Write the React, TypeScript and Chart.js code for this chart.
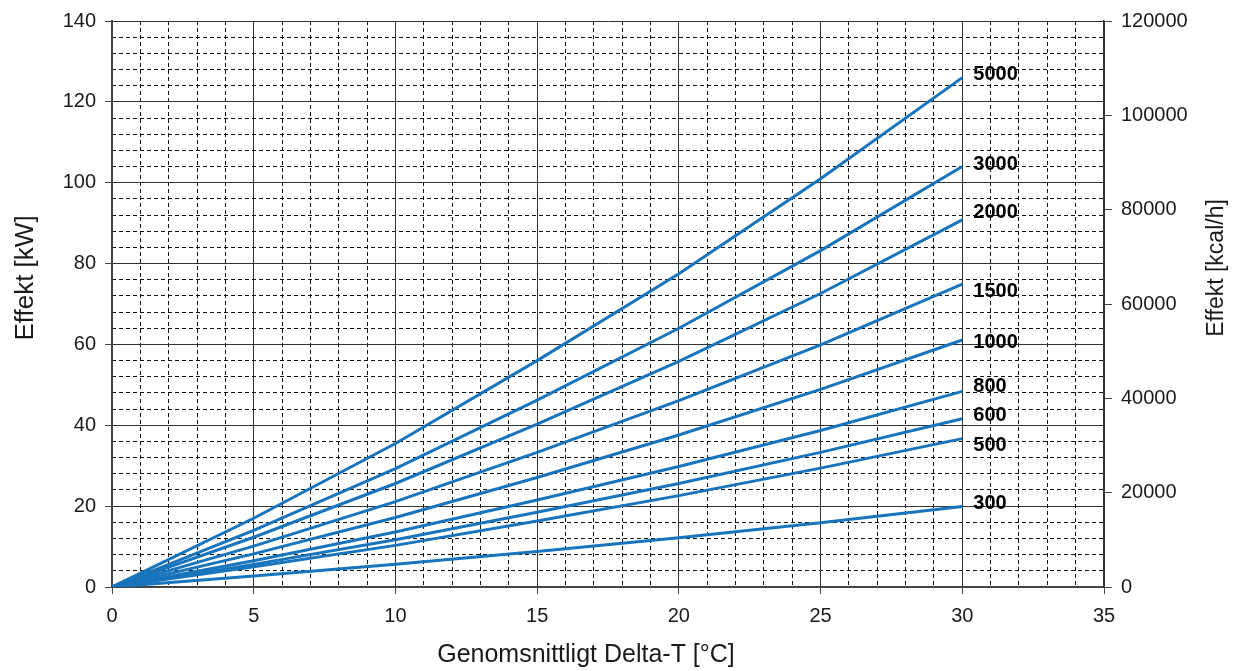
import React, { useEffect, useRef } from 'react';
import { Chart, registerables } from 'chart.js';

Chart.register(...registerables);

// ---- data ----
const deltaT = [0, 5, 10, 15, 20, 25, 30];
const seriesNames = ['5000', '3000', '2000', '1500', '1000', '800', '600', '500', '300'];
const s5000 = [0, 17, 35.5, 56, 77.5, 101, 126];
const s3000 = [0, 14, 29.3, 46.2, 64, 83.2, 104];
const s2000 = [0, 12.3, 25.6, 40.3, 55.8, 72.6, 90.8];
const s1500 = [0, 10.1, 21.1, 33.3, 46.1, 59.9, 74.9];
const s1000 = [0, 8.2, 17.2, 27.1, 37.6, 48.9, 61.1];
const s800 = [0, 6.5, 13.6, 21.5, 29.8, 38.7, 48.4];
const s600 = [0, 5.6, 11.7, 18.5, 25.6, 33.3, 41.6];
const s500 = [0, 5.0, 10.3, 16.3, 22.6, 29.4, 36.7];
const s300 = [0, 2.7, 5.6, 8.8, 12.2, 15.9, 19.9];
const seriesValues = [s5000, s3000, s2000, s1500, s1000, s800, s600, s500, s300];

const xTickValues = [0, 5, 10, 15, 20, 25, 30, 35];
const yTickValues = [0, 20, 40, 60, 80, 100, 120, 140];
const y2TickValues = [0, 20000, 40000, 60000, 80000, 100000, 120000];

const xTitle = 'Genomsnittligt Delta-T [°C]';
const yTitle = 'Effekt [kW]';
const y2Title = 'Effekt [kcal/h]';

// ---- styles ----
const lineColor = '#1874bc';
const labelOffsets = [-3, -2, -7, 7, 3, -5, -3, 7, -3];
const fam = '"Liberation Sans", Arial, Helvetica, sans-serif';
const textColor = '#1a1a1a';

export default function App() {
  const ref = useRef<HTMLCanvasElement>(null);

  useEffect(() => {
    document.body.style.margin = '0';
    const canvas = ref.current as HTMLCanvasElement;
    Chart.defaults.font.family = fam;

    const datasets = seriesNames.map((n, i) => ({
      label: n,
      data: deltaT.map((x, j) => ({ x, y: seriesValues[i][j] })),
      borderColor: lineColor,
      backgroundColor: lineColor,
      borderWidth: 3,
      pointRadius: 0,
      tension: 0,
      fill: false,
    }));

    const labelPlugin = {
      id: 'lineLabels',
      afterDatasetsDraw(chart: any) {
        const c = chart.ctx;
        c.save();
        c.font = `bold 20px ${fam}`;
        c.fillStyle = '#000';
        c.textBaseline = 'middle';
        c.textAlign = 'left';
        chart.data.datasets.forEach((ds: any, i: number) => {
          const meta = chart.getDatasetMeta(i);
          const pt = meta.data[meta.data.length - 1];
          c.fillText(ds.label, pt.x + 11, pt.y + labelOffsets[i]);
        });
        c.restore();
      },
    };

    const titlePlugin = {
      id: 'axisTitles',
      afterDraw(chart: any) {
        const c = chart.ctx;
        c.save();
        c.fillStyle = textColor;
        c.textAlign = 'center';
        c.textBaseline = 'middle';
        c.font = `25px ${fam}`;
        c.fillText(xTitle, 586, 655);
        c.save();
        c.translate(26, 278);
        c.rotate(-Math.PI / 2);
        c.font = `26px ${fam}`;
        c.fillText(yTitle, 0, 0);
        c.restore();
        c.save();
        c.translate(1217, 268);
        c.rotate(-Math.PI / 2);
        c.font = `23px ${fam}`;
        c.fillText(y2Title, 0, 0);
        c.restore();
        c.restore();
      },
    };

    const isMultiple = (v: number, m: number) => Math.abs(v / m - Math.round(v / m)) < 1e-6;

    const chart = new Chart(canvas, {
      type: 'line',
      data: { datasets } as any,
      options: {
        animation: false,
        responsive: true,
        maintainAspectRatio: false,
        layout: { padding: { top: 17, left: 0, right: 0, bottom: 0 } },
        plugins: { legend: { display: false }, tooltip: { enabled: false } },
        scales: {
          xMinor: {
            type: 'linear',
            position: 'bottom',
            min: 0,
            max: 35,
            ticks: { display: false, stepSize: 1 },
            grid: {
              color: (ctx: any) => (ctx.tick && isMultiple(ctx.tick.value, 5) ? 'rgba(0,0,0,0)' : '#111'),
              lineWidth: 1,
              drawTicks: false,
            },
            border: { display: false, dash: [4, 3] },
            afterFit(s: any) { s.height = 0; },
          },
          yMinor: {
            type: 'linear',
            position: 'left',
            min: 0,
            max: 140,
            ticks: { display: false, stepSize: 4 },
            grid: {
              color: (ctx: any) => (ctx.tick && isMultiple(ctx.tick.value, 20) ? 'rgba(0,0,0,0)' : '#111'),
              lineWidth: 1,
              drawTicks: false,
            },
            border: { display: false, dash: [4, 3] },
            afterFit(s: any) { s.width = 0; },
          },
          x: {
            type: 'linear',
            position: 'bottom',
            min: 0,
            max: 35,
            afterBuildTicks(s: any) { s.ticks = xTickValues.map((v) => ({ value: v })); },
            ticks: { color: textColor, font: { size: 20 }, padding: 10, maxRotation: 0, autoSkip: false },
            grid: { color: '#333', lineWidth: 1, tickLength: 7, tickColor: '#444' },
            border: { display: true, color: '#444', width: 2 },
            afterFit(s: any) { s.height = 84; },
          },
          y: {
            type: 'linear',
            position: 'left',
            min: 0,
            max: 140,
            afterBuildTicks(s: any) { s.ticks = yTickValues.map((v) => ({ value: v })); },
            ticks: { color: textColor, font: { size: 20 }, padding: 9, autoSkip: false },
            grid: { color: '#333', lineWidth: 1, tickLength: 7, tickColor: '#444' },
            border: { display: true, color: '#444', width: 2 },
            afterFit(s: any) { s.width = 112; },
          },
          y2: {
            type: 'linear',
            position: 'right',
            min: 0,
            max: 120000,
            afterBuildTicks(s: any) { s.ticks = y2TickValues.map((v) => ({ value: v })); },
            ticks: { color: textColor, font: { size: 20 }, padding: 9, autoSkip: false, callback: (v: any) => String(v) },
            grid: { drawOnChartArea: false, tickLength: 8, tickColor: '#444', lineWidth: 1 },
            border: { display: true, color: '#333', width: 1.5 },
            afterFit(s: any) { s.width = 134; },
          },
        },
      } as any,
      plugins: [labelPlugin, titlePlugin],
    });

    return () => chart.destroy();
  }, []);

  return (
    <div style={{ position: 'relative', width: 1238, height: 671 }}>
      <canvas ref={ref} />
    </div>
  );
}
